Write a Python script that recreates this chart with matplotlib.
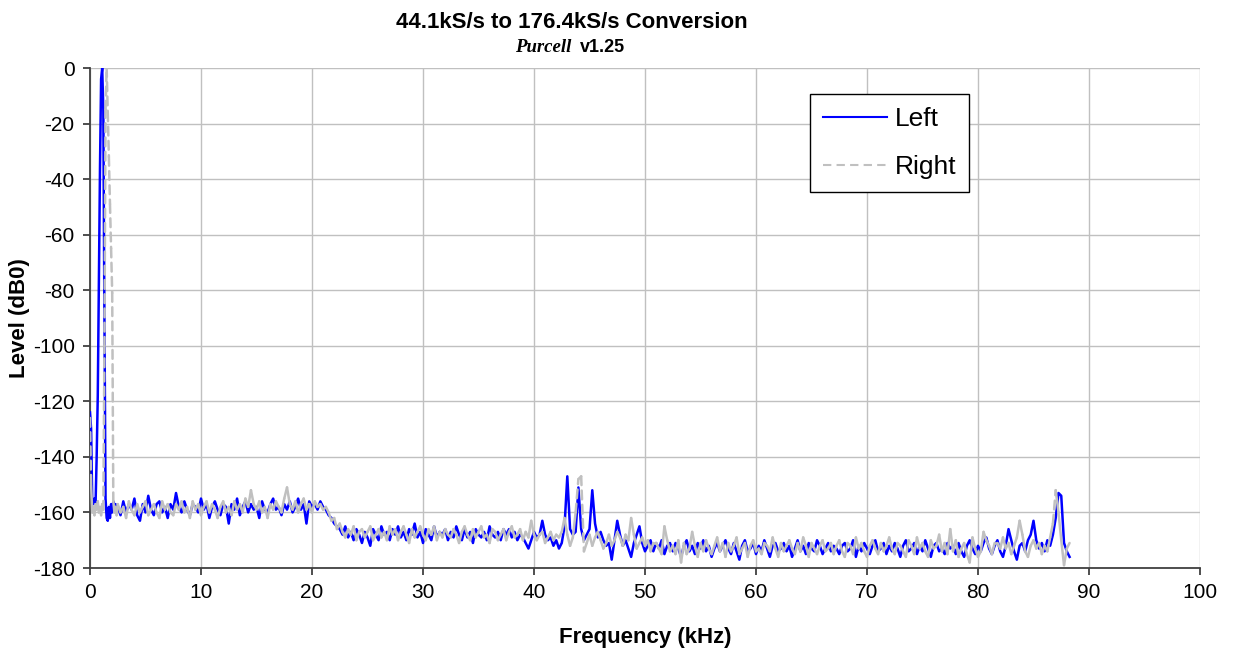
import numpy as np
import matplotlib
matplotlib.use('Agg')
import matplotlib.pyplot as plt
from matplotlib.collections import LineCollection
from matplotlib.lines import Line2D

plt.rcParams['font.family'] = ['Liberation Sans', 'DejaVu Sans']
plt.rcParams['axes.unicode_minus'] = False

# first 2.4 kHz (fine bins around the 1 kHz tone)
start_khz = [0.0, 0.1, 0.2, 0.3, 0.4, 0.5, 0.6, 0.7, 0.8, 0.9, 1.0, 1.1, 1.2,
             1.3, 1.4, 1.5, 1.6, 1.7, 1.8, 1.9, 2.0, 2.1, 2.2, 2.3, 2.4]
start_left = [-124, -130, -156, -157, -155, -157, -140, -118, -77, -36, -4, 0, -15,
              -90, -155, -162, -163, -158, -162, -157, -160, -156, -159, -157, -160]
start_right = [-126, -150, -160, -158, -161, -157, -159, -156, -160, -158, -161, -157, -159,
               -100, -15, 0, -16, -32, -49, -65, -81, -156, -160, -158, -161]

# noise floor, 0.25 kHz bins starting at 2.5 kHz
floor_start = 2.5
floor_step = 0.25
floor_left = [
    -158, -161, -156, -160, -157, -159, -155, -161, -163, -157, -160, -154, -159, -161, -157, -156, -160, -158, -162, -157,
    -159, -153, -158, -160, -156, -159, -161, -157, -158, -160, -155, -159, -157, -162, -158, -156, -159, -161, -157, -158,
    -164, -157, -159, -155, -161, -158, -156, -160, -157, -159, -158, -162, -156, -159, -160, -157, -155, -159, -158, -161,
    -157, -159, -156, -160, -158, -155, -159, -157, -164, -156, -158, -157, -159, -156, -158, -159, -161, -162, -164, -165,
    -166, -168, -165, -169, -167, -170, -166, -168, -171, -167, -169, -172, -166, -168, -170, -165, -168, -167, -170, -166,
    -168, -165, -169, -167, -170, -166, -168, -164, -169, -167, -171, -166, -168, -170, -165, -169, -167, -168, -166, -170,
    -167, -169, -165, -168, -170, -166, -169, -167, -171, -166, -168, -169, -167, -170, -165, -168, -169, -167, -170, -166,
    -168, -166, -169, -167, -170, -168, -169, -171, -173, -170, -167, -169, -168, -163, -168, -170, -169, -172, -170, -173,
    -171, -165, -147, -166, -168, -167, -151, -166, -170, -168, -166, -152, -164, -169, -167, -170, -172, -171, -177, -170,
    -163, -168, -172, -170, -173, -176, -171, -168, -165, -171, -174, -172, -170, -174, -171, -173, -170, -175, -172, -171,
    -174, -171, -173, -176, -172, -170, -174, -172, -175, -171, -173, -170, -174, -172, -176, -173, -171, -174, -172, -170,
    -173, -175, -171, -174, -177, -172, -170, -174, -173, -171, -175, -172, -174, -170, -173, -176, -172, -171, -174, -173,
    -171, -174, -172, -176, -173, -170, -174, -172, -175, -171, -173, -174, -170, -172, -175, -173, -171, -174, -172, -173,
    -175, -172, -171, -174, -173, -170, -176, -172, -174, -171, -173, -175, -172, -170, -174, -173, -171, -175, -172, -174,
    -171, -173, -176, -172, -170, -174, -173, -171, -175, -172, -174, -170, -173, -176, -172, -171, -174, -173, -175, -171,
    -173, -172, -175, -171, -174, -176, -172, -170, -173, -175, -172, -174, -171, -169, -173, -175, -172, -170, -174, -176,
    -172, -166, -170, -174, -177, -172, -171, -174, -170, -168, -163, -170, -173, -171, -174, -170, -172, -168, -162, -153,
    -154, -171, -174, -176,
]
floor_right = [
    -157, -160, -158, -162, -156, -159, -161, -157, -160, -158, -156, -161, -159, -157, -160, -162, -156, -159, -157, -160,
    -161, -157, -159, -156, -160, -158, -162, -156, -159, -157, -161, -158, -156, -160, -157, -159, -162, -158, -156, -160,
    -158, -161, -156, -159, -157, -160, -155, -158, -152, -157, -159, -156, -160, -158, -162, -157, -159, -156, -158, -160,
    -155, -151, -157, -159, -156, -160, -157, -155, -159, -157, -160, -156, -158, -157, -159, -158, -160, -163, -162, -166,
    -164, -167, -169, -166, -168, -165, -170, -167, -166, -169, -167, -165, -170, -168, -166, -169, -167, -170, -165, -168,
    -166, -170, -167, -165, -168, -171, -166, -169, -167, -165, -168, -170, -166, -168, -165, -170, -167, -169, -166, -168,
    -169, -166, -168, -171, -167, -165, -168, -170, -166, -169, -167, -165, -169, -168, -171, -166, -167, -170, -168, -166,
    -170, -167, -165, -169, -168, -166, -170, -167, -169, -163, -168, -170, -168, -167, -171, -169, -167, -170, -168, -169,
    -167, -162, -168, -172, -169, -160, -148, -147, -174, -171, -168, -172, -169, -167, -170, -173, -171, -168, -172, -170,
    -167, -169, -172, -168, -170, -162, -168, -173, -171, -169, -172, -170, -174, -171, -171, -173, -175, -165, -170, -174,
    -172, -175, -170, -178, -171, -175, -173, -167, -172, -176, -171, -174, -170, -173, -175, -172, -169, -174, -171, -176,
    -171, -174, -172, -169, -175, -173, -171, -176, -172, -170, -174, -173, -175, -171, -172, -174, -169, -173, -176, -171,
    -174, -172, -170, -173, -175, -171, -174, -169, -172, -176, -171, -173, -175, -172, -170, -174, -173, -171, -175, -172,
    -170, -174, -176, -171, -172, -175, -169, -173, -171, -174, -176, -172, -170, -173, -175, -171, -174, -172, -169, -173,
    -175, -171, -172, -174, -176, -170, -172, -175, -169, -173, -171, -174, -176, -170, -173, -172, -168, -174, -171, -175,
    -166, -174, -170, -176, -173, -171, -175, -178, -169, -173, -176, -174, -167, -170, -172, -175, -171, -171, -173, -169,
    -173, -171, -175, -172, -169, -163, -168, -174, -176, -172, -170, -173, -171, -175, -172, -174, -169, -164, -152, -160,
    -170, -179, -173, -171,
]

x_ticks = list(range(0, 101, 10))
y_ticks = list(range(-180, 1, 20))

BLUE = '#0000ff'
SILVER = '#c0c0c0'
DARK = '#404040'


def series(start_vals, floor_vals):
    khz = np.concatenate([start_khz, floor_start + floor_step * np.arange(len(floor_vals))])
    db = np.concatenate([start_vals, floor_vals]).astype(float)
    return khz, db


left_khz, left_db = series(start_left, floor_left)
right_khz, right_db = series(start_right, floor_right)

fig = plt.figure(figsize=(12.34, 6.52), dpi=100)
ax = fig.add_axes([90 / 1234, 1 - 568 / 652, 1110 / 1234, 500 / 652])

ax.plot(left_khz, left_db, color=BLUE, lw=1.8, zorder=3, solid_joinstyle='round')

# Excel style dashes: each segment restarts the pattern, so the short noise
# segments read as solid and only the steep ones show dashes
pts = np.column_stack([right_khz, right_db])
segs = np.stack([pts[:-1], pts[1:]], axis=1)
steep = np.abs(np.diff(right_db)) > 10
styles = [(0, (3.5, 2.2)) if s else 'solid' for s in steep]
lc = LineCollection(segs, colors=SILVER, linewidths=1.8, linestyles=styles, zorder=4)
lc.set_capstyle('round')
ax.add_collection(lc)

ax.set_xlim(0, 100)
ax.set_ylim(-180, 0)
ax.set_xticks(x_ticks)
ax.set_yticks(y_ticks)
ax.grid(True, color=SILVER, lw=1.0, zorder=0)
ax.set_axisbelow(True)
for side in ['top', 'right']:
    ax.spines[side].set_visible(False)
for side in ['left', 'bottom']:
    ax.spines[side].set_color(DARK)
    ax.spines[side].set_linewidth(1.3)
ax.tick_params(direction='out', length=5, width=1.3, color=DARK, labelsize=15, pad=6)

ax.set_xlabel('Frequency (kHz)', fontsize=16, fontweight='bold')
ax.xaxis.label.set_va('baseline')
ax.xaxis.set_label_coords(0.5, (568 - 643) / 500)
ax.set_ylabel('Level (dB0)', fontsize=16, fontweight='bold')
ax.yaxis.set_label_coords(-0.054, 0.5)

fig.text(572 / 1234, 1 - 28 / 652, '44.1kS/s to 176.4kS/s Conversion',
         ha='center', va='baseline', fontsize=16, fontweight='bold')
fig.text(515 / 1234, 1 - 51.5 / 652, 'Purcell', family='Liberation Serif',
         style='italic', fontweight='bold', fontsize=13.5, ha='left', va='baseline')
fig.text(580 / 1234, 1 - 51.5 / 652, 'v1.25', fontweight='bold', fontsize=13,
         ha='left', va='baseline')

handles = [Line2D([], [], color=BLUE, lw=1.5),
           Line2D([], [], color=SILVER, lw=1.5, ls=(0, (4, 2.5)))]
leg = ax.legend(handles, ['Left', 'Right'], loc='upper left',
                bbox_to_anchor=((810 - 90) / 1110, (568 - 94) / 500),
                borderaxespad=0, fontsize=19, handlelength=2.4, handletextpad=0.3,
                borderpad=0.5, labelspacing=0.9, fancybox=False, framealpha=1,
                edgecolor='black')
leg.get_frame().set_linewidth(1.0)

fig.savefig('out.png', dpi=100)
